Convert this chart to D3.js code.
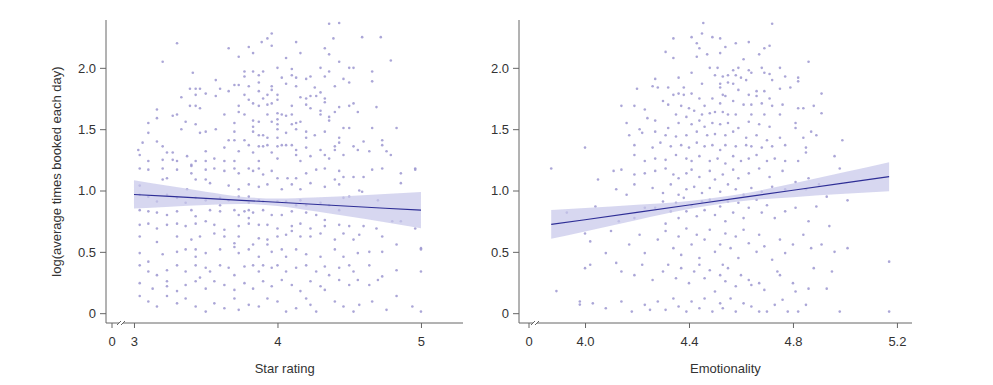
<!DOCTYPE html>
<html>
<head>
<meta charset="utf-8">
<script src="https://cdn.jsdelivr.net/npm/d3@7"></script>
<style>
  body { margin: 0; background: #fff; }
  svg text { font-family: "Liberation Sans", Arial, Helvetica, sans-serif; fill: #333; }
</style>
</head>
<body>
<div id="chart"></div>
<script>
// y axis shared by both panels
const yTicks = [0, 0.5, 1.0, 1.5, 2.0];
const yTitle = "log(average times booked each day)";

// left panel: star rating
const starTicks = [3, 4, 5];
const starTitle = "Star rating";
const starFitX = [3, 3.25, 3.5, 3.75, 4, 4.25, 4.5, 4.75, 5];
const starFit = [0.968, 0.952, 0.936, 0.920, 0.904, 0.888, 0.872, 0.856, 0.840];
const starLo = [0.853, 0.868, 0.882, 0.890, 0.874, 0.833, 0.788, 0.741, 0.693];
const starHi = [1.083, 1.036, 0.990, 0.950, 0.934, 0.943, 0.956, 0.971, 0.987];
const starPoints = [
  [4.36,2.36],[4.43,2.365],[4.39,2.24],[4.59,2.25],[4.72,2.25],[3.96,2.28],[3.93,2.24],[3.89,2.21],[3.96,2.18],[3.80,2.17],
  [3.83,2.12],[3.66,2.16],[3.30,2.20],[3.20,2.05],[3.73,2.09],[4.13,2.21],[4.16,2.12],[4.06,2.08],[4.33,2.16],[4.36,2.11],
  [4.43,2.05],[4.50,2.00],[4.53,2.00],[4.79,2.06],[4.66,1.97],[4.66,1.89],[4.36,1.97],[4.33,1.93],[4.30,2.00],[4.46,1.91],
  [4.50,1.88],[4.00,2.00],[4.10,1.99],[3.77,1.97],[3.83,1.97],[3.87,1.94],[3.90,1.97],[3.77,1.93],[4.03,1.92],[4.10,1.94],
  [4.13,1.92],[4.20,1.91],[4.23,1.93],[3.41,1.96],[3.57,1.90],[3.70,1.86],[3.73,1.86],[3.80,1.85],[3.87,1.88],[3.96,1.85],
  [3.96,1.82],[4.06,1.87],[4.13,1.85],[4.26,1.84],[4.30,1.80],[4.40,1.85],[4.33,1.75],[3.39,1.83],[3.43,1.83],[3.46,1.83],
  [3.60,1.83],[3.50,1.79],[3.43,1.78],[3.66,1.81],[3.33,1.76],[3.57,1.77],[3.87,1.81],[3.93,1.78],[3.90,1.75],[4.00,1.78],
  [3.80,1.74],[3.77,1.78],[4.16,1.76],[4.20,1.75],[4.23,1.77],[4.27,1.77],[4.33,1.72],[4.50,1.69],[4.53,1.71],[4.69,1.68],
  [3.39,1.69],[3.43,1.69],[3.46,1.67],[3.16,1.66],[3.16,1.59],[3.73,1.69],[3.73,1.64],[3.83,1.71],[3.87,1.69],[3.93,1.70],
  [3.96,1.71],[4.00,1.74],[4.10,1.69],[4.20,1.70],[4.23,1.67],[4.30,1.65],[4.30,1.62],[4.40,1.64],[4.43,1.68],[4.56,1.64],
  [3.30,1.62],[3.27,1.61],[3.36,1.56],[3.43,1.54],[3.63,1.62],[3.70,1.55],[3.77,1.62],[3.83,1.57],[3.83,1.52],[3.87,1.56],
  [3.93,1.62],[3.96,1.56],[4.00,1.63],[4.00,1.58],[4.00,1.54],[4.03,1.62],[4.06,1.61],[4.10,1.62],[4.10,1.54],[4.13,1.55],
  [4.16,1.56],[4.36,1.60],[4.36,1.57],[4.46,1.51],[4.50,1.51],[4.66,1.51],[4.83,1.51],[3.10,1.55],[3.33,1.50],[3.46,1.47],
  [3.50,1.48],[3.57,1.50],[3.66,1.41],[3.70,1.48],[3.70,1.41],[3.77,1.41],[3.83,1.48],[3.87,1.45],[3.90,1.45],[3.87,1.36],
  [3.93,1.43],[4.00,1.50],[4.00,1.43],[4.06,1.47],[4.13,1.50],[4.20,1.48],[4.20,1.43],[4.26,1.45],[4.33,1.48],[4.43,1.43],
  [4.43,1.39],[4.60,1.40],[4.73,1.41],[3.10,1.47],[3.06,1.39],[3.16,1.40],[3.20,1.36],[3.03,1.33],[3.04,1.29],[3.10,1.24],
  [3.20,1.25],[3.23,1.31],[3.27,1.31],[3.27,1.25],[3.30,1.24],[3.37,1.28],[3.40,1.21],[3.43,1.24],[3.50,1.32],[3.50,1.24],
  [3.56,1.26],[3.63,1.35],[3.63,1.24],[3.70,1.24],[3.73,1.32],[3.80,1.37],[3.83,1.31],[3.87,1.24],[3.90,1.36],[3.93,1.37],
  [3.96,1.31],[4.00,1.36],[4.00,1.26],[4.03,1.37],[4.06,1.37],[4.10,1.37],[4.13,1.33],[4.13,1.29],[4.16,1.24],[4.20,1.35],
  [4.23,1.28],[4.30,1.33],[4.33,1.29],[4.36,1.26],[4.40,1.36],[4.40,1.33],[4.46,1.29],[4.53,1.36],[4.56,1.33],[4.64,1.32],
  [4.73,1.37],[4.76,1.32],[4.79,1.29],[4.96,1.18],
  [3.04,1.18],[3.10,1.17],[3.20,1.18],[3.30,1.17],[3.40,1.20],[3.40,1.14],[3.50,1.17],[3.56,1.18],[3.63,1.16],[3.70,1.18],
  [3.73,1.14],[3.80,1.18],[3.83,1.16],[3.87,1.18],[3.90,1.13],[3.96,1.16],[4.00,1.10],[4.07,1.10],[4.13,1.10],[4.20,1.14],
  [4.27,1.17],[4.33,1.18],[4.40,1.09],[4.43,1.16],[4.46,1.11],[4.53,1.11],[4.60,1.11],[4.66,1.17],[4.73,1.18],[4.86,1.14],
  [4.96,1.17],[4.86,1.06],[3.23,1.10],[3.20,1.09],[3.43,1.09],[3.50,1.09],[3.53,1.06],[3.04,1.04],[3.37,1.01],[3.66,1.04],
  [3.73,1.01],[3.80,1.05],[3.87,1.03],[3.93,1.05],[4.03,1.01],[4.10,1.05],[4.16,1.01],[4.23,1.06],[4.33,1.03],[4.43,1.05],
  [4.57,1.00],[4.59,0.99],[4.70,0.92],[3.04,0.965],[3.10,0.95],[3.16,0.91],[3.23,0.965],[3.30,0.94],[3.36,0.90],[3.43,0.94],
  [3.50,0.92],[3.60,0.94],[3.60,0.88],[3.66,0.92],[3.73,0.95],[3.80,0.95],[3.80,0.90],[3.80,0.84],[3.80,0.775],[3.80,0.73],
  [3.87,0.92],[3.90,0.91],[4.00,0.91],[4.06,0.91],[4.13,0.88],[4.16,0.92],[4.20,0.88],[4.30,0.90],[4.36,0.88],[4.46,0.94],
  [4.50,0.95],[3.04,0.84],[3.10,0.83],[3.16,0.82],[3.23,0.80],[3.30,0.83],[3.40,0.84],[3.43,0.79],[3.53,0.84],[3.60,0.83],
  [3.70,0.84],[3.73,0.80],[3.77,0.83],[3.83,0.82],[3.90,0.84],[3.96,0.80],[4.03,0.80],[4.10,0.83],[4.20,0.82],[4.27,0.80],
  [4.33,0.76],[4.43,0.84],[4.80,0.75],[4.86,0.75],[4.96,0.69],[3.04,0.72],[3.10,0.73],[3.16,0.69],[3.23,0.72],[3.30,0.73],
  [3.36,0.71],[3.43,0.73],[3.50,0.75],[3.56,0.72],[3.63,0.68],[3.73,0.71],[3.87,0.72],[3.93,0.72],[4.00,0.69],[4.10,0.71],
  [4.16,0.73],[4.23,0.69],[4.33,0.71],[4.43,0.72],[4.50,0.71],[4.60,0.71],[4.69,0.69],[3.04,0.625],[3.16,0.58],[3.30,0.625],
  [3.40,0.60],[3.46,0.625],[3.56,0.65],[3.63,0.625],[3.70,0.57],[3.73,0.625],[3.83,0.56],[3.87,0.61],[3.93,0.60],[3.93,0.56],
  [4.00,0.625],[4.06,0.64],[4.10,0.67],[4.16,0.625],[4.23,0.625],[4.30,0.65],[4.40,0.60],[4.46,0.65],[4.53,0.60],[4.57,0.64],
  [4.73,0.625],[4.83,0.56],[5.00,0.53],[5.00,0.52],[3.04,0.49],[3.10,0.42],[3.20,0.48],[3.30,0.50],[3.36,0.52],[3.43,0.52],
  [3.43,0.46],[3.50,0.49],[3.60,0.52],[3.70,0.54],[3.73,0.49],[3.80,0.52],[3.87,0.46],[3.96,0.50],[4.03,0.52],[4.06,0.46],
  [4.13,0.52],[4.20,0.48],[4.30,0.46],[4.40,0.52],[4.46,0.46],[4.56,0.49],[4.64,0.50],[4.73,0.50],[3.04,0.39],[3.10,0.34],
  [3.16,0.31],[3.23,0.35],[3.30,0.39],[3.36,0.34],[3.43,0.39],[3.46,0.29],[3.50,0.37],[3.53,0.34],[3.60,0.39],[3.66,0.37],
  [3.70,0.31],[3.77,0.38],[3.83,0.39],[3.87,0.34],[3.90,0.39],[3.96,0.37],[4.00,0.39],[4.06,0.34],[4.13,0.37],[4.20,0.39],
  [4.27,0.34],[4.33,0.38],[4.36,0.31],[4.43,0.37],[4.50,0.39],[4.53,0.34],[4.64,0.39],[4.73,0.30],[4.83,0.35],[5.00,0.34],
  [3.04,0.245],[3.13,0.20],[3.23,0.26],[3.23,0.22],[3.30,0.18],[3.36,0.23],[3.43,0.26],[3.50,0.20],[3.56,0.26],[3.63,0.23],
  [3.70,0.19],[3.77,0.245],[3.83,0.20],[3.90,0.26],[3.96,0.22],[4.03,0.27],[4.10,0.23],[4.16,0.18],[4.23,0.26],[4.30,0.22],
  [4.33,0.19],[4.43,0.27],[4.50,0.23],[4.56,0.27],[4.64,0.23],[4.70,0.27],[3.04,0.14],[3.10,0.095],[3.16,0.055],[3.23,0.14],
  [3.30,0.08],[3.36,0.12],[3.43,0.055],[3.50,0.013],[3.56,0.08],[3.63,0.04],[3.70,0.12],[3.73,0.027],[3.80,0.068],[3.87,0.055],
  [3.93,0.12],[4.00,0.095],[4.06,0.013],[4.13,0.04],[4.20,0.12],[4.23,0.068],[4.27,0.013],[4.40,0.095],[4.46,0.055],[4.53,0.013],
  [4.57,0.068],[4.66,0.095],[4.76,0.027],[4.83,0.14],[4.94,0.055],[5.00,0.013]
];

// right panel: emotionality
const emoTicks = [4.0, 4.4, 4.8, 5.2];
const emoTitle = "Emotionality";
const emoFitX = [3.87, 4.0, 4.2, 4.4, 4.6, 4.8, 5.0, 5.17];
const emoFit = [0.724, 0.762, 0.822, 0.882, 0.942, 1.002, 1.062, 1.113];
const emoLo = [0.606, 0.666, 0.760, 0.849, 0.913, 0.946, 0.973, 0.995];
const emoHi = [0.842, 0.858, 0.884, 0.915, 0.971, 1.058, 1.151, 1.231];
const emoPoints = [
  [4.455,2.365],[4.72,2.36],[4.45,2.28],[4.41,2.25],[4.34,2.24],[4.49,2.25],[4.52,2.24],[4.43,2.20],[4.58,2.20],[4.63,2.21],
  [4.44,2.16],[4.54,2.17],[4.71,2.18],[4.69,2.16],[4.31,2.13],[4.34,2.08],[4.47,2.11],[4.52,2.12],[4.43,2.09],[4.67,2.11],
  [4.61,2.07],[4.86,2.05],[4.48,2.00],[4.51,2.00],[4.57,1.98],[4.59,2.00],[4.63,1.98],[4.68,2.00],[4.75,2.00],[4.41,1.96],
  [4.50,1.94],[4.53,1.93],[4.55,1.94],[4.58,1.94],[4.64,1.96],[4.69,1.96],[4.71,1.95],[4.77,1.93],[4.82,1.92],[4.27,1.91],
  [4.36,1.92],[4.45,1.87],[4.52,1.87],[4.55,1.88],[4.57,1.87],[4.60,1.92],[4.62,1.90],[4.72,1.90],[4.82,1.89],[4.26,1.85],
  [4.28,1.84],[4.32,1.84],[4.38,1.84],[4.20,1.83],[4.52,1.84],[4.59,1.82],[4.66,1.81],[4.69,1.81],[4.75,1.83],[4.79,1.84],
  [4.91,1.79],[4.34,1.78],[4.36,1.79],[4.38,1.78],[4.41,1.79],[4.53,1.78],[4.54,1.77],[4.63,1.78],[4.66,1.77],[4.71,1.75],
  [4.30,1.73],[4.44,1.75],[4.49,1.75],[4.57,1.73],[4.14,1.69],[4.19,1.69],[4.23,1.66],[4.32,1.70],[4.37,1.69],[4.40,1.67],
  [4.46,1.69],[4.52,1.71],[4.61,1.70],[4.64,1.70],[4.68,1.71],[4.72,1.69],[4.76,1.70],[4.82,1.67],[4.84,1.67],[4.88,1.69],
  [4.24,1.59],[4.35,1.62],[4.39,1.60],[4.42,1.65],[4.45,1.62],[4.48,1.63],[4.50,1.64],[4.53,1.64],[4.55,1.62],[4.58,1.62],
  [4.64,1.62],[4.69,1.62],[4.75,1.62],[4.91,1.63],[4.16,1.55],[4.21,1.50],[4.27,1.57],[4.32,1.51],[4.36,1.55],[4.41,1.54],
  [4.44,1.57],[4.46,1.52],[4.49,1.55],[4.52,1.54],[4.55,1.55],[4.59,1.51],[4.63,1.56],[4.67,1.54],[4.71,1.52],[4.81,1.55],
  [4.81,1.51],[4.87,1.48],[4.17,1.45],[4.22,1.47],[4.27,1.48],[4.31,1.45],[4.35,1.44],[4.39,1.45],[4.43,1.48],[4.47,1.45],
  [4.50,1.46],[4.54,1.45],[4.57,1.48],[4.62,1.43],[4.66,1.45],[4.70,1.41],[4.75,1.43],[4.84,1.43],[4.89,1.45],[4.99,1.41],
  [4.00,1.35],[4.19,1.37],[4.26,1.35],[4.29,1.39],[4.33,1.36],[4.37,1.37],[4.40,1.35],[4.43,1.39],[4.46,1.36],[4.49,1.37],
  [4.52,1.33],[4.54,1.37],[4.58,1.36],[4.62,1.37],[4.64,1.36],[4.68,1.35],[4.72,1.36],[4.77,1.37],[4.85,1.35],[4.85,1.31],
  [3.87,1.18],[4.19,1.29],[4.23,1.24],[4.27,1.26],[4.31,1.25],[4.35,1.29],[4.39,1.26],[4.41,1.24],[4.44,1.28],[4.48,1.24],
  [4.51,1.26],[4.54,1.22],[4.57,1.28],[4.60,1.24],[4.63,1.26],[4.66,1.29],[4.70,1.24],[4.73,1.26],[4.77,1.24],[4.82,1.24],
  [4.96,1.28],
  [4.05,1.09],[4.11,1.16],[4.14,1.17],[4.19,1.13],[4.23,1.14],[4.27,1.16],[4.31,1.18],[4.34,1.13],[4.36,1.10],[4.39,1.14],
  [4.41,1.17],[4.44,1.11],[4.48,1.16],[4.50,1.09],[4.53,1.13],[4.57,1.17],[4.59,1.10],[4.63,1.14],[4.67,1.18],[4.71,1.11],
  [4.76,1.16],[4.81,1.07],[4.86,1.10],[4.90,1.05],[4.98,1.18],[4.12,1.01],[4.16,0.965],[4.19,1.05],[4.26,1.02],[4.30,0.98],
  [4.33,1.05],[4.36,0.965],[4.39,1.01],[4.42,1.03],[4.45,0.98],[4.48,1.02],[4.52,0.99],[4.55,1.05],[4.58,1.01],[4.61,0.965],
  [4.64,1.02],[4.68,0.99],[4.72,1.03],[4.77,1.01],[4.85,1.01],[4.93,0.95],[5.01,0.92],[3.93,0.82],[4.00,0.65],[4.04,0.87],
  [4.10,0.67],[4.13,0.75],[4.19,0.775],[4.23,0.86],[4.27,0.86],[4.30,0.91],[4.31,0.73],[4.33,0.83],[4.35,0.90],[4.36,0.775],
  [4.38,0.94],[4.39,0.83],[4.41,0.88],[4.43,0.79],[4.45,0.91],[4.46,0.84],[4.48,0.925],[4.50,0.80],[4.52,0.87],[4.54,0.75],
  [4.55,0.91],[4.57,0.82],[4.59,0.90],[4.61,0.775],[4.63,0.86],[4.66,0.925],[4.68,0.82],[4.70,0.88],[4.73,0.775],[4.77,0.83],
  [4.81,0.86],[4.86,0.75],[4.89,0.87],[4.94,0.71],[4.02,0.585],[4.08,0.49],[4.17,0.56],[4.21,0.64],[4.23,0.49],[4.28,0.60],
  [4.31,0.67],[4.34,0.53],[4.36,0.625],[4.37,0.475],[4.39,0.69],[4.41,0.56],[4.43,0.64],[4.44,0.45],[4.46,0.60],[4.48,0.68],
  [4.50,0.50],[4.52,0.56],[4.53,0.395],[4.54,0.65],[4.56,0.53],[4.58,0.625],[4.59,0.45],[4.61,0.68],[4.63,0.57],[4.66,0.50],
  [4.67,0.64],[4.69,0.545],[4.72,0.435],[4.75,0.60],[4.77,0.49],[4.80,0.56],[4.84,0.64],[4.87,0.53],[4.91,0.56],[4.96,0.50],
  [5.01,0.53],[5.17,0.42],[4.00,0.367],[4.02,0.395],[4.12,0.41],[4.14,0.34],[4.19,0.31],[4.22,0.395],[4.26,0.27],[4.30,0.34],
  [4.32,0.395],[4.35,0.285],[4.37,0.367],[4.40,0.245],[4.42,0.34],[4.44,0.395],[4.46,0.285],[4.48,0.35],[4.50,0.177],[4.52,0.31],
  [4.54,0.26],[4.55,0.367],[4.58,0.22],[4.60,0.31],[4.63,0.27],[4.64,0.23],[4.67,0.245],[4.69,0.19],[4.74,0.34],[4.75,0.31],
  [4.80,0.245],[4.81,0.177],[4.86,0.20],[4.88,0.367],[4.93,0.20],[4.95,0.34],[3.89,0.18],[3.98,0.095],[4.03,0.08],[4.08,0.04],
  [4.14,0.095],[4.18,0.013],[4.23,0.068],[4.25,0.027],[4.28,0.095],[4.31,0.027],[4.34,0.12],[4.36,0.055],[4.39,0.013],[4.41,0.095],
  [4.44,0.04],[4.46,0.12],[4.49,0.013],[4.52,0.08],[4.53,0.04],[4.56,0.12],[4.58,0.013],[4.61,0.08],[4.64,0.055],[4.67,0.013],
  [4.70,0.013],[4.73,0.068],[4.76,0.11],[4.78,0.013],[4.82,0.013],[4.85,0.068],[4.98,0.013],[5.17,0.013],[3.98,0.07]
];

class ScatterPanel {
  constructor(svg, opts) {
    this.svg = svg;
    Object.assign(this, opts);

    this.pointColor = "#9c97d0";
    this.bandColor = "#c8c8ea";
    this.lineColor = "#2e2e96";
    this.axisColor = "#666";

    this.draw();
  }

  draw() {
    const g = this.svg.append("g");
    const x = d3.scaleLinear().domain(this.xDomain).range(this.xRange);
    const y = d3.scaleLinear().domain([-0.08, 2.39]).range([323, 20]);

    // points
    g.append("g").selectAll("circle")
      .data(this.points)
      .join("circle")
      .attr("cx", d => x(d[0]))
      .attr("cy", d => y(d[1]))
      .attr("r", 1.3)
      .attr("fill", this.pointColor)
      .attr("fill-opacity", 0.85);

    // confidence band + fitted line
    const rows = this.fitX.map((v, i) => ({x: v, fit: this.fit[i], lo: this.lo[i], hi: this.hi[i]}));
    const area = d3.area()
      .x(d => x(d.x)).y0(d => y(d.lo)).y1(d => y(d.hi))
      .curve(d3.curveMonotoneX);
    g.append("path")
      .datum(rows)
      .attr("d", area)
      .attr("fill", this.bandColor)
      .attr("fill-opacity", 0.72);

    g.append("path")
      .datum(rows)
      .attr("d", d3.line().x(d => x(d.x)).y(d => y(d.fit)))
      .attr("fill", "none")
      .attr("stroke", this.lineColor)
      .attr("stroke-width", 1.1);

    // y axis
    const yAxis = g.append("g")
      .attr("transform", `translate(${this.xRange[0]},0)`)
      .call(d3.axisLeft(y).tickValues(yTicks).tickSize(6).tickPadding(4)
        .tickFormat(d => d === 0 ? "0" : d3.format(".1f")(d)));
    yAxis.select(".domain").attr("d", `M0,${y.range()[1]}V${y.range()[0]}`);

    // x axis
    const xAxis = g.append("g")
      .attr("transform", `translate(0,${y.range()[0]})`)
      .call(d3.axisBottom(x).tickValues(this.ticks).tickSize(5).tickPadding(9)
        .tickFormat(this.tickFormat));
    xAxis.select(".domain").attr("d", `M${x.range()[0]},0H${x.range()[1]}`);

    // broken axis: the "0" origin and a little break mark
    const x0 = this.xRange[0];
    const zero = xAxis.append("g").attr("transform", `translate(${x0 + this.zeroOffset},0)`);
    zero.append("line").attr("y2", 5).attr("stroke", this.axisColor);
    zero.append("text").attr("y", 23).attr("text-anchor", "middle").text("0");

    const brk = xAxis.append("g").attr("transform", `translate(${x0 + this.breakOffset},0)`);
    brk.append("rect").attr("x", 0).attr("y", -1.5).attr("width", 4).attr("height", 3).attr("fill", "#fff");
    brk.append("line").attr("x1", -2).attr("y1", 2).attr("x2", 2).attr("y2", -2).attr("stroke", this.axisColor);
    brk.append("line").attr("x1", 2).attr("y1", 2).attr("x2", 6).attr("y2", -2).attr("stroke", this.axisColor);

    [xAxis, yAxis].forEach(a => {
      a.selectAll(".domain, line").attr("stroke", this.axisColor);
      a.selectAll("text").attr("font-size", 13).attr("fill", "#333")
        .attr("font-family", "Liberation Sans, Arial, sans-serif");
    });

    // titles
    g.append("text")
      .attr("x", x(this.titleAt))
      .attr("y", 373)
      .attr("text-anchor", "middle")
      .attr("font-size", 13)
      .text(this.title);

    if (this.yTitle) {
      g.append("text")
        .attr("transform", `translate(61,${(y.range()[0] + y.range()[1]) / 2}) rotate(-90)`)
        .attr("text-anchor", "middle")
        .attr("font-size", 13)
        .text(this.yTitle);
    }
  }
}

const svg = d3.select("#chart").append("svg")
  .attr("width", 993)
  .attr("height", 385)
  .attr("viewBox", [0, 0, 993, 385]);

new ScatterPanel(svg, {
  xDomain: [2.805, 5.293], xRange: [106, 463],
  ticks: starTicks, tickFormat: d3.format("d"),
  points: starPoints, fitX: starFitX, fit: starFit, lo: starLo, hi: starHi,
  title: starTitle, titleAt: 4.05, yTitle: yTitle,
  zeroOffset: 6, breakOffset: 13
});

new ScatterPanel(svg, {
  xDomain: [3.746, 5.258], xRange: [519, 912],
  ticks: emoTicks, tickFormat: d3.format(".1f"),
  points: emoPoints, fitX: emoFitX, fit: emoFit, lo: emoLo, hi: emoHi,
  title: emoTitle, titleAt: 4.54,
  zeroOffset: 10, breakOffset: 14
});
</script>
</body>
</html>
